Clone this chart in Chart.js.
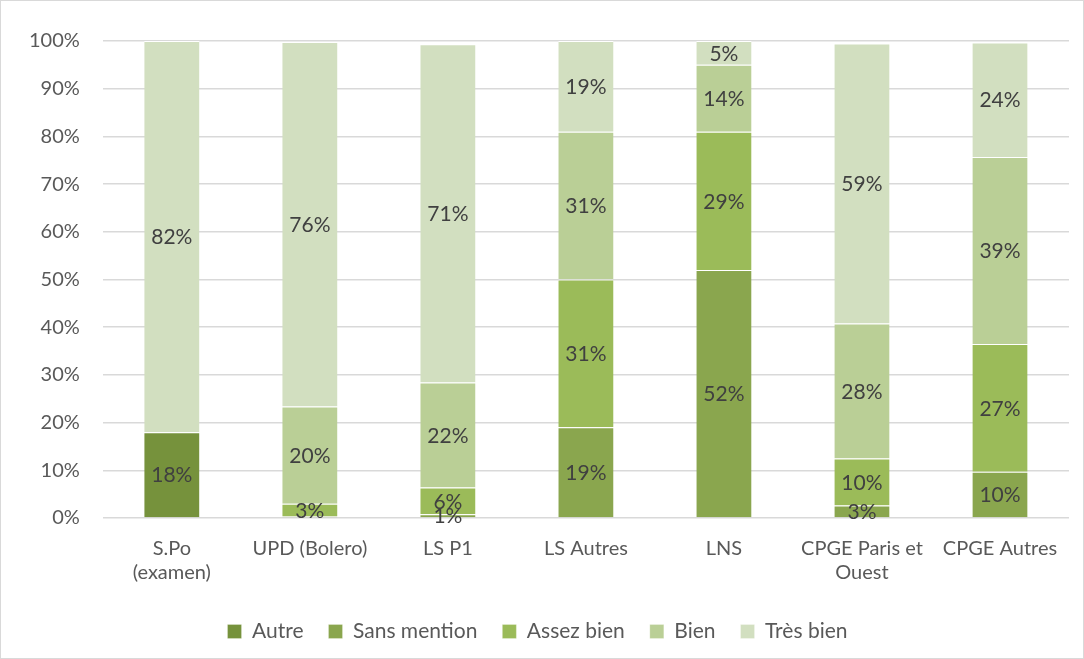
<!DOCTYPE html>
<html>
<head>
<meta charset="utf-8">
<script src="https://cdn.jsdelivr.net/npm/chart.js@4.4.0/dist/chart.umd.min.js"></script>
<style>
body{margin:0;background:#fff;}
#wrap{position:absolute;left:0;top:0;width:1082px;height:657px;border:1px solid #d9d9d9;}
</style>
</head>
<body>
<div id="wrap"><canvas id="chart"></canvas></div>
<script>
let categories = [["S.Po","(examen)"],"UPD (Bolero)","LS P1","LS Autres","LNS",["CPGE Paris et","Ouest"],"CPGE Autres"];

let autre       = [18, 0, 0, 0, 0, 0, 0];
let sansMention = [0, 0.4, 0.8, 19, 52, 2.6, 9.7];
let assezBien   = [0, 2.6, 5.6, 31, 29, 9.9, 26.8];
let bien        = [0, 20.4, 22, 31, 14, 28.3, 39.2];
let tresBien    = [82, 76.4, 70.9, 19, 5, 58.7, 24];

let seriesNames = ["Autre","Sans mention","Assez bien","Bien","Très bien"];
let seriesColors = ["#76923C","#8AA64E","#9BBB59","#BACF96","#D2DFC0"];

let yTicks = [0,10,20,30,40,50,60,70,80,90,100];

let font = "Lato, 'Open Sans', sans-serif";

/* labels centred on each segment */
let segLabels = {
id:"segLabels",
afterDatasetsDraw(ch){
let ctx = ch.ctx;
ctx.save();
ctx.font = "21px " + font;
ctx.fillStyle = "#404040";
ctx.textAlign = "center";
ctx.textBaseline = "middle";
ch.data.datasets.forEach((ds,i) => {
let meta = ch.getDatasetMeta(i);
meta.data.forEach((bar,j) => {
let v = ds.data[j];
if(Math.round(v) < 1) return;
ctx.fillText(Math.round(v) + "%", bar.x, (bar.y + bar.base)/2 + 1);
});
});
ctx.restore();
}
};

let allSeries = [autre, sansMention, assezBien, bien, tresBien];

let chart = new Chart(document.getElementById("chart").getContext("2d"),{
type:"bar",
data:{
labels:categories,
datasets:allSeries.map((d,i) => ({
label:seriesNames[i],
data:d,
backgroundColor:seriesColors[i],
borderColor:"#ffffff",
borderWidth:{top:1,bottom:0,left:0,right:0},
borderSkipped:false,
categoryPercentage:1,
barPercentage:0.4
}))
},
options:{
responsive:true,
maintainAspectRatio:false,
animation:false,
layout:{padding:{top:40,right:14,left:5,bottom:6}},
plugins:{
legend:{
position:"bottom",
labels:{boxWidth:14,boxHeight:14,font:{size:21,family:font},color:"#595959",padding:25}
},
tooltip:{enabled:false}
},
scales:{
x:{
stacked:true,
grid:{display:false},
border:{display:false},
ticks:{font:{size:20,family:font},color:"#595959",maxRotation:0,autoSkip:false,padding:11}
},
y:{
stacked:true,
min:0,
max:100,
afterBuildTicks(axis){ axis.ticks = yTicks.map(v => ({value:v})); },
grid:{color:"#d9d9d9",lineWidth:1.5,drawTicks:false},
border:{display:false},
ticks:{font:{size:20,family:font},color:"#595959",padding:23,callback:v => v + "%"}
}
}
},
plugins:[segLabels]
});
</script>
</body>
</html>
